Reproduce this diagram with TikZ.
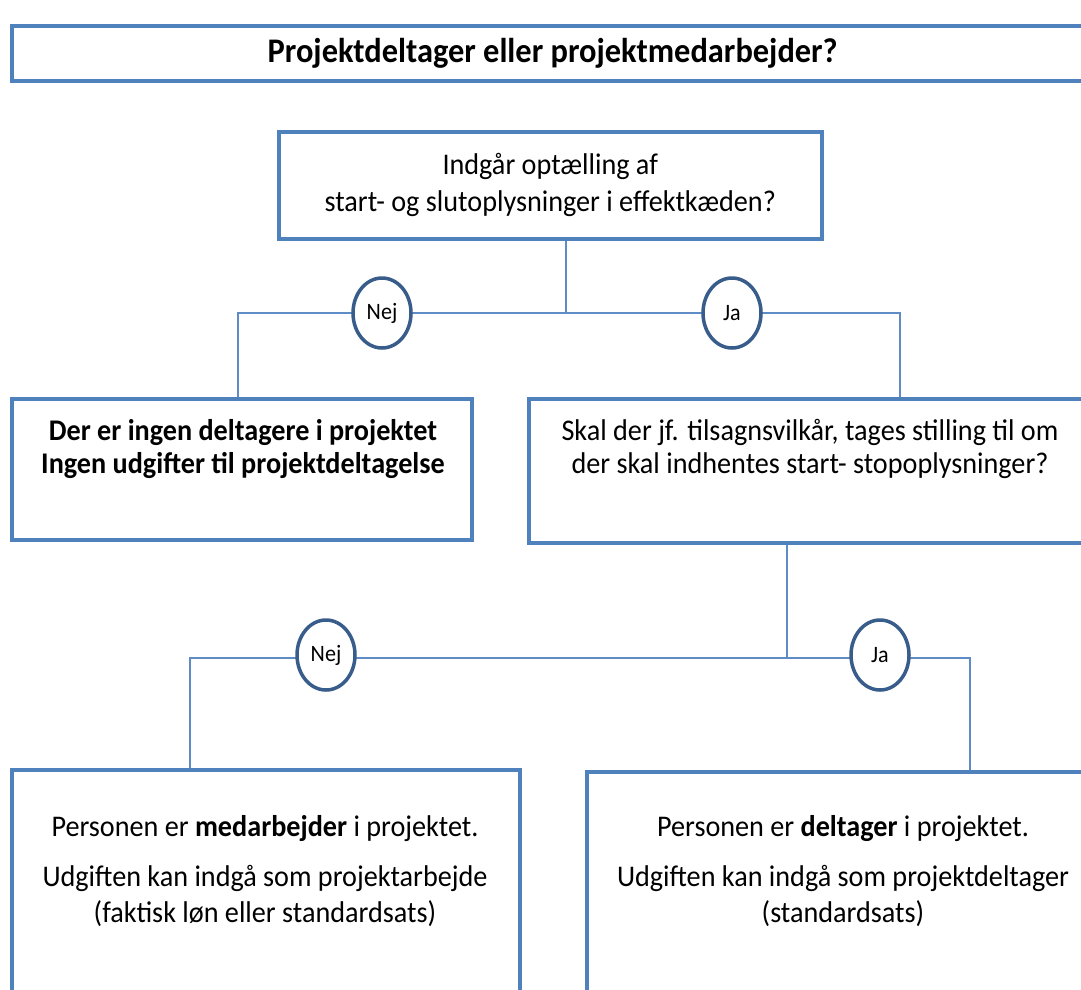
\documentclass[tikz,border=0pt]{standalone}
\usepackage{fontspec}
\setmainfont{Carlito}[FakeStretch=0.94]
\usetikzlibrary{shapes.geometric}
\definecolor{boxblue}{RGB}{79,129,189}
\definecolor{ringblue}{RGB}{56,93,138}
\definecolor{lineblue}{RGB}{95,140,198}
\begin{document}
\begin{tikzpicture}[x=1pt,y=-1pt,
  box/.style={draw=boxblue,line width=3.5pt,anchor=north west,inner sep=0pt},
  conn/.style={draw=lineblue,line width=1.5pt},
  ring/.style={ellipse,draw=ringblue,line width=3.5pt,fill=white,minimum width=58pt,minimum height=70pt,inner sep=0pt,font=\fontsize{23.5}{27}\selectfont},
  txt/.style={align=center,font=\fontsize{30}{36}\selectfont,inner sep=0pt},
  btxt/.style={txt,font=\bfseries\fontsize{30}{33}\selectfont}]
\useasboundingbox (0,0) rectangle (1081,989);
\fill[white] (0,0) rectangle (1081,989);
\clip (0,0) rectangle (1081,989);

% boxes
\node[box,minimum width=1082pt,minimum height=55pt,font=\bfseries\fontsize{34.5}{40}\selectfont] (title) at (10,24) {Projektdeltager eller projektmedarbejder?};
\node[box,minimum width=543pt,minimum height=107pt,align=center,font=\fontsize{30}{37}\selectfont] (q1) at (277,130) {Indgår optælling af\\start- og slutoplysninger i effektkæden?};
\node[box,minimum width=460pt,minimum height=141pt] (l1) at (10,397) {};
\node[box,minimum width=573pt,minimum height=144pt] (r1) at (527,397) {};
\node[box,minimum width=508pt,minimum height=240pt] (l2) at (10,768) {};
\node[box,minimum width=515pt,minimum height=240pt] (r2) at (585,770) {};

% box texts
\node[btxt] (l1t) at (243,449) {Der er ingen deltagere i projektet\\Ingen udgifter til projektdeltagelse};
\node[txt,font=\fontsize{30}{33}\selectfont] (r1t) at (810,449) {Skal der jf. tilsagnsvilkår, tages stilling til om\\der skal indhentes start- stopoplysninger?};
\node[txt] (l2t) at (265,871) {Personen er \textbf{medarbejder} i projektet.\\[14pt]Udgiften kan indgå som projektarbejde\\(faktisk løn eller standardsats)};
\node[txt] (r2t) at (843,871) {Personen er \textbf{deltager} i projektet.\\[14pt]Udgiften kan indgå som projektdeltager\\(standardsats)};

% junction coordinates
\coordinate (j1) at (566,313);
\coordinate (a1) at (238,313);
\coordinate (b1) at (900,313);
\coordinate (j2) at (787,658);
\coordinate (a2) at (190,658);
\coordinate (b2) at (970,658);

% connectors
\draw[conn] (q1.south -| j1) -- (j1) -- (a1) -- (l1.north -| a1);
\draw[conn] (j1) -- (b1) -- (r1.north -| b1);
\draw[conn] (r1.south -| j2) -- (j2) -- (a2) -- (l2.north -| a2);
\draw[conn] (j2) -- (b2) -- (r2.north -| b2);

% decision circles
\node[ring] (nej1) at (382,313) {Nej};
\node[ring] (ja1) at (732,313) {Ja};
\node[ring] (nej2) at (326,655) {Nej};
\node[ring] (ja2) at (880,655) {Ja};
\end{tikzpicture}
\end{document}
